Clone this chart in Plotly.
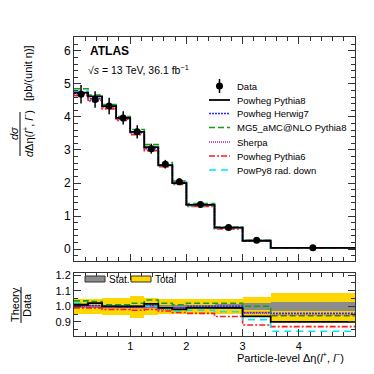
import plotly.graph_objects as go

# bins in delta eta(l+, l-)
edges = [0, 0.25, 0.5, 0.75, 1.0, 1.25, 1.5, 1.75, 2.0, 2.5, 3.0, 3.5, 5.0]
centers = [(a + b) / 2 for a, b in zip(edges[:-1], edges[1:])]
widths = [b - a for a, b in zip(edges[:-1], edges[1:])]

# measured cross section [pb/(unit eta)]
data = [4.69, 4.53, 4.33, 3.97, 3.55, 3.04, 2.57, 2.04, 1.35, 0.655, 0.27, 0.04]
data_err = [0.28, 0.25, 0.25, 0.2, 0.2, 0.15, 0.13, 0.1, 0.06, 0.04, 0.02, 0.01]

# theory / data ratios
r_powpy8 = [1.01, 1.02, 1.0, 1.0, 1.0, 1.015, 0.99, 0.98, 0.99, 0.99, 0.935, 0.90]
r_herwig7 = [1.005, 1.005, 1.0, 0.995, 0.995, 1.005, 0.99, 0.99, 1.0, 1.0, 0.96, 0.955]
r_mg5 = [1.035, 1.03, 1.01, 1.01, 1.02, 1.04, 1.02, 1.01, 1.02, 1.02, 1.0, 0.94]
r_sherpa = [1.0, 0.995, 0.99, 0.99, 0.99, 0.99, 0.98, 0.99, 0.99, 0.99, 0.955, 0.945]
r_powpy6 = [0.99, 0.99, 0.98, 0.98, 0.975, 0.98, 0.97, 0.96, 0.955, 0.935, 0.88, 0.87]
r_raddown = [1.02, 1.02, 1.0, 1.0, 1.0, 1.0, 0.985, 0.97, 0.975, 0.965, 0.915, 0.84]

# relative uncertainties (half widths)
stat_unc = [0.01, 0.01, 0.01, 0.01, 0.012, 0.012, 0.012, 0.012, 0.012, 0.015, 0.02, 0.03]
tot_unc = [0.05, 0.05, 0.055, 0.055, 0.07, 0.055, 0.05, 0.05, 0.05, 0.05, 0.06, 0.09]

models = [
    ("Powheg Herwig7", r_herwig7, "#2b2bff", "2px,1px", 1.6),
    ("MG5_aMC@NLO Pythia8", r_mg5, "#1a9a1a", "6px,3px", 1.6),
    ("Sherpa", r_sherpa, "#a020c0", "1px,1px", 1.4),
    ("Powheg Pythia6", r_powpy6, "#ff1a1a", "6px,2px,2px,2px", 1.6),
    ("PowPy8 rad. down", r_raddown, "#00e5ff", "7px,5px", 1.6),
    ("Powheg Pythia8", r_powpy8, "black", "solid", 1.8),
]

FONT = "Liberation Sans, Arial, sans-serif"


def step(vals):
    return list(edges), list(vals) + [vals[-1]]


fig = go.Figure()

# main panel: theory histograms
for name, ratio, col, dash, w in models:
    x, y = step([d * r for d, r in zip(data, ratio)])
    fig.add_trace(go.Scatter(x=x, y=y, mode="lines", line_shape="hv",
                             line=dict(color=col, dash=dash, width=w),
                             xaxis="x", yaxis="y", showlegend=False))

fig.add_trace(go.Scatter(x=centers, y=data, mode="markers",
                         marker=dict(color="black", size=7),
                         error_y=dict(type="data", array=data_err, color="black",
                                      thickness=1.5, width=0),
                         xaxis="x", yaxis="y", showlegend=False))

# ratio panel: uncertainty bands
fig.add_trace(go.Bar(x=centers, width=widths, y=[2 * u for u in tot_unc],
                     base=[1 - u for u in tot_unc], marker=dict(color="#ffd700", line_width=0),
                     xaxis="x2", yaxis="y2", showlegend=False))
fig.add_trace(go.Bar(x=centers, width=widths, y=[2 * u for u in stat_unc],
                     base=[1 - u for u in stat_unc], marker=dict(color="#8c8c8c", line_width=0),
                     xaxis="x2", yaxis="y2", showlegend=False))

for name, ratio, col, dash, w in models:
    x, y = step(ratio)
    fig.add_trace(go.Scatter(x=x, y=y, mode="lines", line_shape="hv",
                             line=dict(color=col, dash=dash, width=w),
                             xaxis="x2", yaxis="y2", showlegend=False))

# page pixel -> paper helpers; the page body adds an 8px offset
OFF = 8
W = H = 374 - OFF
L, R, T, B = 74 - OFF, 19, 37 - OFF, 38
PW, PH = W - L - R, H - T - B


def px(xp):
    return (xp - OFF - L) / PW


def py(yp):
    return (H - B - (yp - OFF)) / PH


axis_common = dict(showline=True, linecolor="#333", linewidth=1, mirror="allticks",
                   ticks="inside", tickcolor="#333", showgrid=False, zeroline=False)

fig.update_layout(
    width=W, height=H,
    margin=dict(l=L, r=R, t=T, b=B),
    paper_bgcolor="white", plot_bgcolor="white",
    font=dict(family=FONT, color="black", size=11),
    barmode="overlay", bargap=0,
    xaxis=dict(domain=[0, 1], range=[0, 5], anchor="y", showticklabels=False,
               tickvals=[1, 2, 3, 4], ticklen=7,
               minor=dict(dtick=0.2, ticklen=4, ticks="inside"),
               **axis_common),
    yaxis=dict(domain=[py(261), 1], range=[-0.36, 6.42], anchor="x", dtick=1,
               ticklen=7, tickfont=dict(size=12),
               minor=dict(dtick=0.2, ticklen=4, ticks="inside"), **axis_common),
    xaxis2=dict(domain=[0, 1], range=[0, 5], anchor="y2", tickvals=[1, 2, 3, 4],
                ticklen=7, tickfont=dict(size=11),
                minor=dict(dtick=0.2, ticklen=4, ticks="inside"), **axis_common),
    yaxis2=dict(domain=[0, py(272.7)], range=[0.81, 1.215], anchor="x2",
                tickvals=[0.9, 1.0, 1.1, 1.2], ticktext=["0.9", "1.0", "1.1", "1.2"],
                ticklen=7, tickfont=dict(size=11),
                minor=dict(dtick=0.05, ticklen=4, ticks="inside"), **axis_common),
)

ann = []
shapes = []


def label(xp, yp, text, size=11, anchor="left", angle=0):
    ann.append(dict(x=px(xp), y=py(yp), xref="paper", yref="paper", xanchor=anchor,
                    yanchor="middle", showarrow=False, text=text, textangle=angle,
                    font=dict(size=size)))


label(88, 51, "<b>ATLAS</b>", 12)
label(86, 69, "\u221a<i>s</i> = 13 TeV, 36.1 fb<sup>\u22121</sup>", 10.5)

# legend (main panel)
leg_y = [100, 113.5, 127.5, 142, 156, 170]
leg_models = [models[5], models[0], models[1], models[2], models[3], models[4]]
for (name, ratio, col, dash, w), yy in zip(leg_models, leg_y):
    shapes.append(dict(type="line", xref="paper", yref="paper", x0=px(209), x1=px(230),
                       y0=py(yy), y1=py(yy), line=dict(color=col, dash=dash, width=w)))
    label(235, yy, name, 9.5)
shapes.append(dict(type="line", xref="paper", yref="paper", x0=px(219.5), x1=px(219.5),
                   y0=py(79), y1=py(93), line=dict(color="black", width=1.5)))
shapes.append(dict(type="circle", xref="paper", yref="paper", xsizemode="pixel",
                   ysizemode="pixel", xanchor=px(219.5), yanchor=py(86),
                   x0=-3.5, x1=3.5, y0=-3.5, y1=3.5,
                   fillcolor="black", line=dict(color="black", width=0)))
label(235, 86, "Data", 9.5)

# ratio legend
shapes.append(dict(type="rect", xref="paper", yref="paper", x0=px(85), x1=px(105),
                   y0=py(282), y1=py(276), fillcolor="#8c8c8c", line=dict(color="#333", width=1)))
label(107, 279, "Stat.", 10)
shapes.append(dict(type="rect", xref="paper", yref="paper", x0=px(131), x1=px(151),
                   y0=py(282), y1=py(276), fillcolor="#ffd700", line=dict(color="#333", width=1)))
label(153, 279, "Total", 10)

# y titles
label(14, 134, "<i>d\u03c3</i>", 11, "center", -90)
shapes.append(dict(type="line", xref="paper", yref="paper", x0=px(20), x1=px(20),
                   y0=py(112), y1=py(156), line=dict(color="black", width=1)))
label(28, 134, "<i>d</i>\u0394\u03b7(<i>l</i><sup>+</sup>, <i>l</i><sup>\u2212</sup>)",
      11, "center", -90)
label(28, 73, "[pb/(unit \u03b7)]", 11, "center", -90)

label(15, 305, "Theory", 11, "center", -90)
shapes.append(dict(type="line", xref="paper", yref="paper", x0=px(21), x1=px(21),
                   y0=py(287), y1=py(323), line=dict(color="black", width=1)))
label(27, 305, "Data", 11, "center", -90)

# x title
label(346, 357, "Particle-level \u0394\u03b7(<i>l</i><sup>+</sup>, <i>l</i><sup>\u2212</sup>)",
      11, "right")

fig.update_layout(annotations=ann, shapes=shapes)

fig.write_html("out.html")
